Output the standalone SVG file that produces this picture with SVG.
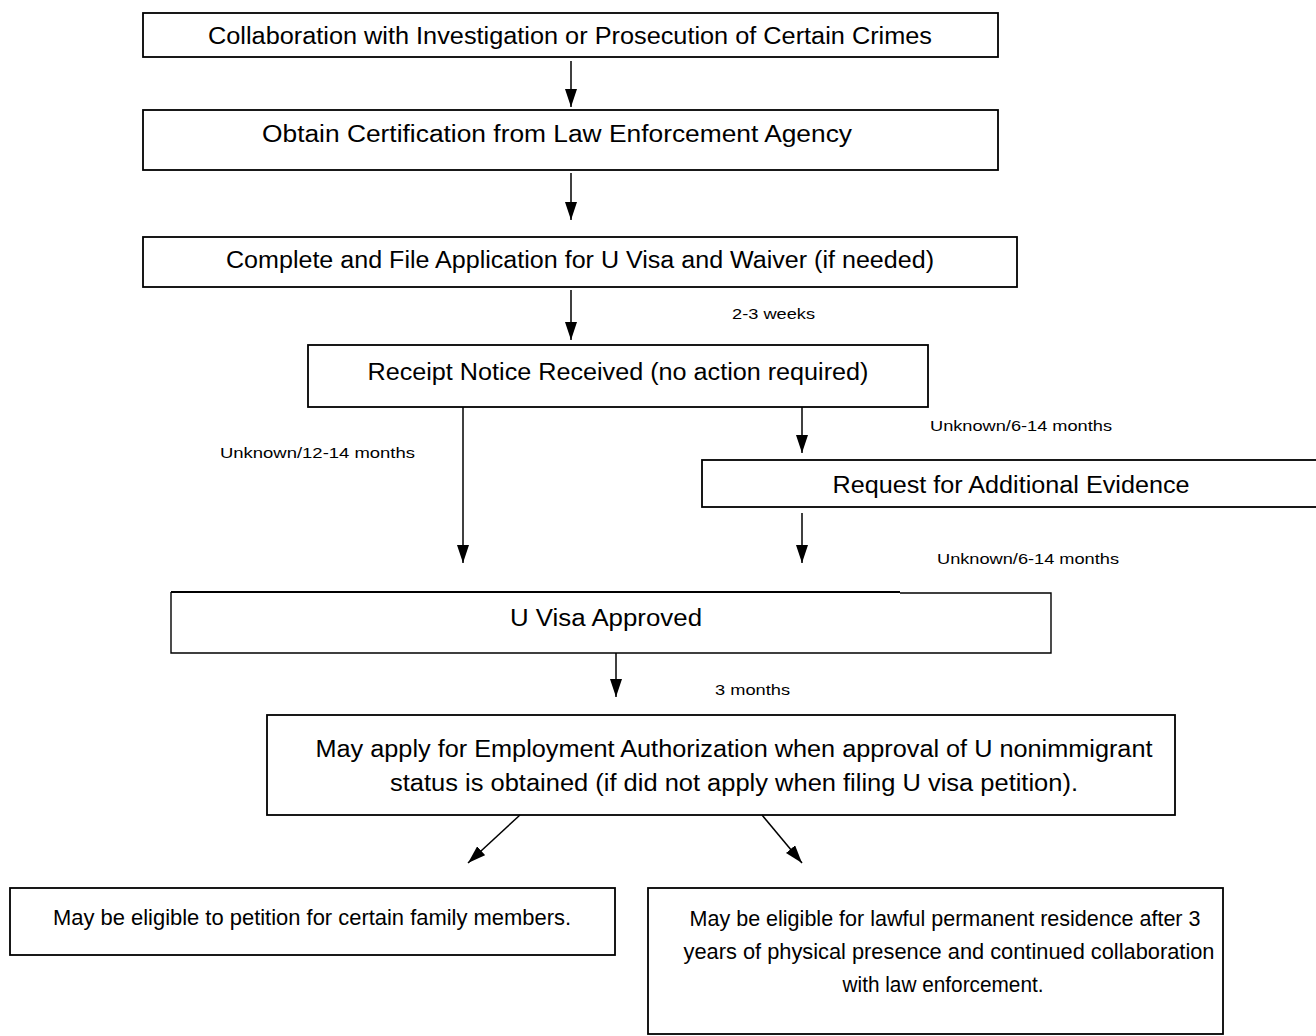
<svg xmlns="http://www.w3.org/2000/svg" width="1316" height="1036" viewBox="0 0 1316 1036">
<style>
.box{fill:#fff;stroke:#000;stroke-width:1.8}
.t{font-family:"Liberation Sans",Arial,sans-serif;font-size:23px;fill:#000;text-anchor:middle}
.b{font-family:"Liberation Sans",Arial,sans-serif;font-size:22px;fill:#000;text-anchor:middle}
.s{font-family:"Liberation Sans",Arial,sans-serif;font-size:15px;fill:#000}
.c{stroke:#000;stroke-width:1.5;fill:none;marker-end:url(#ah)}
</style>
<defs>
<marker id="ah" viewBox="0 0 18 12" refX="18" refY="6" markerWidth="18" markerHeight="12" markerUnits="userSpaceOnUse" orient="auto">
<path d="M0,0 L18,6 L0,12 Z" fill="#000"/>
</marker>
</defs>
<rect width="1316" height="1036" fill="#fff"/>
<g id="n1"><rect class="box" x="143" y="13" width="855" height="44"/><text class="t" x="570" y="44" textLength="724" lengthAdjust="spacingAndGlyphs">Collaboration with Investigation or Prosecution of Certain Crimes</text></g>
<g id="n2"><rect class="box" x="143" y="110" width="855" height="60"/><text class="t" x="557" y="142" textLength="590" lengthAdjust="spacingAndGlyphs">Obtain Certification from Law Enforcement Agency</text></g>
<g id="n3"><rect class="box" x="143" y="237" width="874" height="50"/><text class="t" x="580" y="268" textLength="708" lengthAdjust="spacingAndGlyphs">Complete and File Application for U Visa and Waiver (if needed)</text></g>
<g id="n4"><rect class="box" x="308" y="345" width="620" height="62"/><text class="t" x="618" y="380" textLength="501" lengthAdjust="spacingAndGlyphs">Receipt Notice Received (no action required)</text></g>
<g id="n5"><rect class="box" x="702" y="460" width="620" height="47"/><text class="t" x="1011" y="493" textLength="357" lengthAdjust="spacingAndGlyphs">Request for Additional Evidence</text></g>
<g id="n6"><path d="M900,593 L1051,593 L1051,653 L171,653 L171,592" fill="#fff" stroke="#000" stroke-width="1.4"/><line x1="171" y1="592" x2="900" y2="592" stroke="#000" stroke-width="2"/><text class="t" x="606" y="626" textLength="192" lengthAdjust="spacingAndGlyphs">U Visa Approved</text></g>
<g id="n7"><rect class="box" x="267" y="715" width="908" height="100"/><text class="t" x="734" y="757" textLength="837" lengthAdjust="spacingAndGlyphs">May apply for Employment Authorization when approval of U nonimmigrant</text><text class="t" x="734" y="791" textLength="688" lengthAdjust="spacingAndGlyphs">status is obtained (if did not apply when filing U visa petition).</text></g>
<g id="n8"><rect class="box" x="10" y="888" width="605" height="67"/><text class="b" x="312" y="925" textLength="518" lengthAdjust="spacingAndGlyphs">May be eligible to petition for certain family members.</text></g>
<g id="n9"><rect class="box" x="648" y="888" width="575" height="146"/><text class="b" x="945" y="926" textLength="511" lengthAdjust="spacingAndGlyphs">May be eligible for lawful permanent residence after 3</text><text class="b" x="949" y="959" textLength="531" lengthAdjust="spacingAndGlyphs">years of physical presence and continued collaboration</text><text class="b" x="943" y="992" textLength="201" lengthAdjust="spacingAndGlyphs">with law enforcement.</text></g>
<g id="connectors">
<line class="c" x1="571" y1="61" x2="571" y2="107"/>
<line class="c" x1="571" y1="173" x2="571" y2="220"/>
<line class="c" x1="571" y1="290" x2="571" y2="340"/>
<line class="c" x1="463" y1="407" x2="463" y2="563"/>
<line class="c" x1="802" y1="407" x2="802" y2="453"/>
<line class="c" x1="802" y1="513" x2="802" y2="563"/>
<line class="c" x1="616" y1="653" x2="616" y2="697"/>
<line class="c" x1="520" y1="815" x2="468" y2="863"/>
<line class="c" x1="762" y1="815" x2="802" y2="863"/>
</g>
<g id="labels">
<text class="s" x="732" y="319" textLength="83" lengthAdjust="spacingAndGlyphs">2-3 weeks</text>
<text class="s" x="220" y="458" textLength="195" lengthAdjust="spacingAndGlyphs">Unknown/12-14 months</text>
<text class="s" x="930" y="431" textLength="182" lengthAdjust="spacingAndGlyphs">Unknown/6-14 months</text>
<text class="s" x="937" y="564" textLength="182" lengthAdjust="spacingAndGlyphs">Unknown/6-14 months</text>
<text class="s" x="715" y="695" textLength="75" lengthAdjust="spacingAndGlyphs">3 months</text>
</g>
</svg>
